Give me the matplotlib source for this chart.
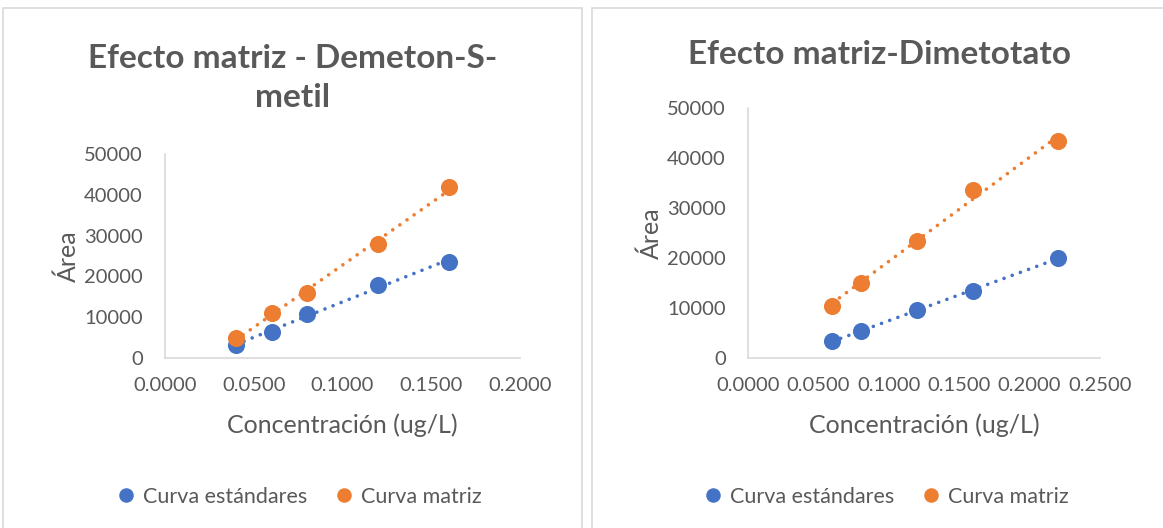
import matplotlib.pyplot as plt
import numpy as np
from matplotlib.patches import Rectangle

# Demeton-S-metil
conc_dem = [0.04, 0.06, 0.08, 0.12, 0.16]
std_dem = [3200, 6350, 10750, 17800, 23650]
mat_dem = [4900, 11000, 15900, 28000, 41850]

# Dimetotato
conc_dim = [0.06, 0.08, 0.12, 0.16, 0.22]
std_dim = [3350, 5400, 9600, 13450, 19980]
mat_dim = [10450, 15100, 23450, 33500, 43300]

azul = '#4472C4'
naranja = '#ED7D31'
gris = '#595959'
W, H = 1163, 528

plt.rcParams['font.family'] = ['Lato', 'DejaVu Sans']
fig = plt.figure(figsize=(W / 100, H / 100), dpi=100)


def px(x0, y0, x1, y1):
    # pixel box -> figure fraction
    return [x0 / W, 1 - y1 / H, (x1 - x0) / W, (y1 - y0) / H]


def panel(box, axbox, conc, std, mat, titulo, title_y, xmax, xticks, legend_x):
    fig.add_artist(Rectangle((box[0] / W, 1 - box[3] / H), (box[2] - box[0]) / W, (box[3] - box[1]) / H,
                             transform=fig.transFigure, fill=False, edgecolor='#D9D9D9', lw=1.2))
    ax = fig.add_axes(px(*axbox))
    for ys, c, lab in [(std, azul, 'Curva estándares'), (mat, naranja, 'Curva matriz')]:
        coef = np.polyfit(conc, ys, 1)
        xx = np.array([min(conc), max(conc)])
        ax.plot(xx, np.polyval(coef, xx), ls=(0, (0.01, 2.4)), lw=2.6, color=c,
                dash_capstyle='round', zorder=2)
        ax.plot(conc, ys, 'o', ms=12.3, color=c, label=lab, zorder=3, mec='none')
    ax.set_xlim(0, xmax)
    ax.set_ylim(0, 50000)
    ax.set_xticks(xticks)
    ax.set_xticklabels([f'{t:.4f}' for t in xticks])
    ax.set_yticks(range(0, 50001, 10000))
    ax.tick_params(length=0, labelsize=14.5, colors=gris, pad=14)
    ax.tick_params(axis='y', pad=16)
    for s in ['top', 'right']:
        ax.spines[s].set_visible(False)
    for s in ['left', 'bottom']:
        ax.spines[s].set_color('#D9D9D9')
        ax.spines[s].set_linewidth(1.2)
    ax.set_xlabel('Concentración (ug/L)', fontsize=18, color=gris, labelpad=14)
    ax.set_ylabel('Área', fontsize=18, color=gris, labelpad=3)
    fig.text(legend_x / W, 1 - title_y / H, titulo, ha='center', va='center', fontsize=24,
             fontweight='bold', color=gris, linespacing=1.45)
    fig.legend(*ax.get_legend_handles_labels(), loc='center', ncol=2, frameon=False,
               bbox_to_anchor=(legend_x / W, 1 - 497 / H), fontsize=15.5, labelcolor=gris,
               handletextpad=-0.2, columnspacing=0.7, markerscale=0.85)
    return ax


panel((3, 8, 582, 540), (165, 154, 520, 358), conc_dem, std_dem, mat_dem,
      'Efecto matriz - Demeton-S-\nmetil', 78, 0.2, [0, 0.05, 0.1, 0.15, 0.2], 293)
panel((592, 8, 1175, 540), (748, 108, 1100, 358), conc_dim, std_dim, mat_dim,
      'Efecto matriz-Dimetotato', 55, 0.25, [0, 0.05, 0.1, 0.15, 0.2, 0.25], 880)

fig.savefig('out.png', dpi=100)
